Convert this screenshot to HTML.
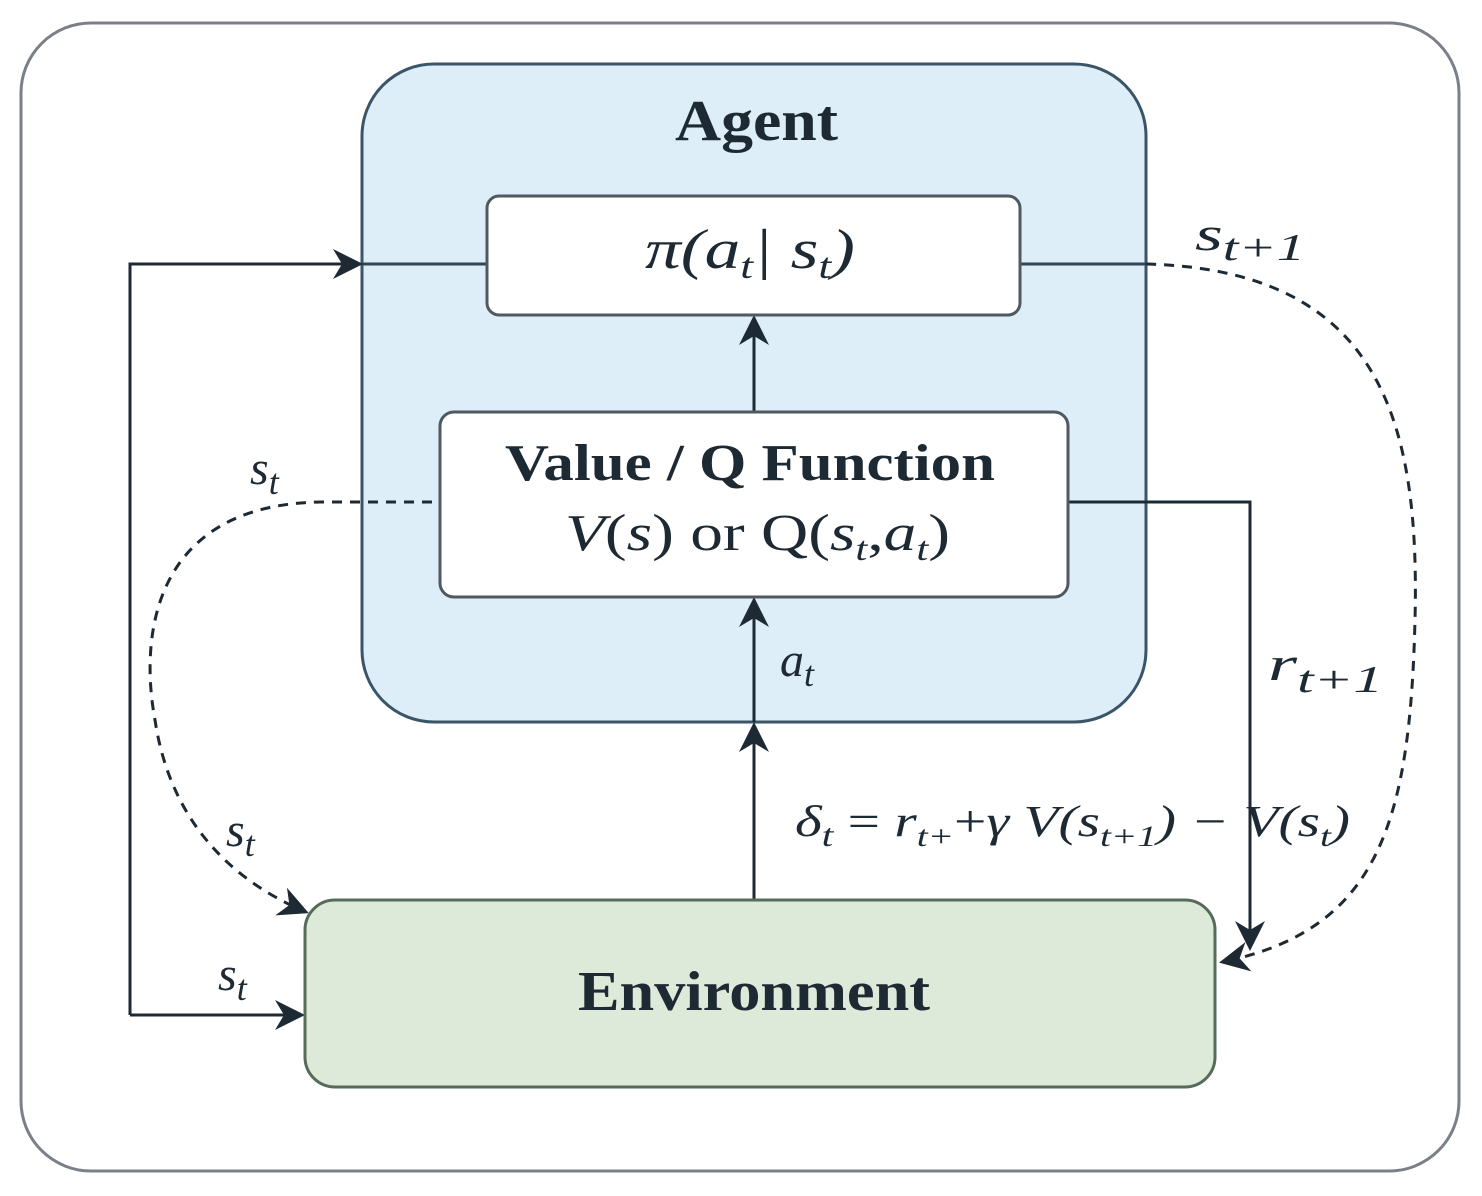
<!DOCTYPE html>
<html><head><meta charset="utf-8"><style>
html,body{margin:0;padding:0;background:#fff;}
svg{display:block;}
text{font-family:"Liberation Serif",serif;fill:#1d2a33;}
</style></head><body>
<svg width="1482" height="1196" viewBox="0 0 1482 1196" xmlns="http://www.w3.org/2000/svg">
<defs>
<marker id="ahb" viewBox="0 0 10 10" refX="9" refY="5" markerWidth="34" markerHeight="30" orient="auto" markerUnits="userSpaceOnUse">
<path d="M0,0 L10,5 L0,10 L3,5 Z" fill="#1d2a33"/></marker>
</defs>
<rect x="21" y="23" width="1438" height="1148" rx="70" fill="#fff" stroke="#7b8088" stroke-width="3"/>
<rect x="362" y="64" width="784" height="658" rx="72" fill="#ddeef9" stroke="#3b5568" stroke-width="3"/>
<text x="675" y="140" font-size="58" font-weight="bold" textLength="163" lengthAdjust="spacingAndGlyphs">Agent</text>
<line x1="362" y1="264" x2="487" y2="264" stroke="#2f4656" stroke-width="3"/>
<line x1="1020" y1="264" x2="1146" y2="264" stroke="#2f4656" stroke-width="3"/>
<path d="M130,1015 L130,264 L360,264" fill="none" stroke="#1d2a33" stroke-width="3" marker-end="url(#ahb)"/>
<line x1="130" y1="1015" x2="302" y2="1015" stroke="#1d2a33" stroke-width="3" marker-end="url(#ahb)"/>
<line x1="754" y1="412" x2="754" y2="318" stroke="#1d2a33" stroke-width="3" marker-end="url(#ahb)"/>
<line x1="754" y1="722" x2="754" y2="600" stroke="#1d2a33" stroke-width="3" marker-end="url(#ahb)"/>
<line x1="754" y1="900" x2="754" y2="725" stroke="#1d2a33" stroke-width="3" marker-end="url(#ahb)"/>
<path d="M1068,502 L1250,502 L1250,948" fill="none" stroke="#1d2a33" stroke-width="3" marker-end="url(#ahb)"/>
<path d="M1146,264 C1380,270 1420,420 1415,620 C1410,820 1380,930 1222,962" fill="none" stroke="#1d2a33" stroke-width="3" stroke-dasharray="10,8" marker-end="url(#ahb)"/>
<path d="M432,502 L320,502 C150,505 140,640 155,720 C170,820 230,880 306,912" fill="none" stroke="#1d2a33" stroke-width="3" stroke-dasharray="10,8" marker-end="url(#ahb)"/>
<rect x="487" y="196" width="533" height="119" rx="12" fill="#fff" stroke="#505860" stroke-width="3"/>
<text x="645" y="268" font-size="56" font-style="italic" textLength="210" lengthAdjust="spacingAndGlyphs">π(a<tspan font-size="36" dy="10">t</tspan><tspan dy="-10">| s</tspan><tspan font-size="36" dy="10">t</tspan><tspan dy="-10">)</tspan></text>
<rect x="440" y="412" width="628" height="185" rx="14" fill="#fff" stroke="#505860" stroke-width="3"/>
<text x="505" y="480" font-size="52" font-weight="bold" textLength="490" lengthAdjust="spacingAndGlyphs">Value / Q Function</text>
<text x="565" y="550" font-size="52" textLength="385" lengthAdjust="spacingAndGlyphs"><tspan font-style="italic">V</tspan>(<tspan font-style="italic">s</tspan>) or Q(<tspan font-style="italic">s</tspan><tspan font-size="34" dy="10" font-style="italic">t</tspan><tspan dy="-10">,</tspan><tspan font-style="italic">a</tspan><tspan font-size="34" dy="10" font-style="italic">t</tspan><tspan dy="-10">)</tspan></text>
<rect x="305" y="900" width="910" height="187" rx="30" fill="#dde9d9" stroke="#566b58" stroke-width="3"/>
<text x="578" y="1010" font-size="56" font-weight="bold" textLength="352" lengthAdjust="spacingAndGlyphs">Environment</text>
<g font-style="italic" font-size="48">
<text x="780" y="676">a<tspan font-size="36" dy="10">t</tspan></text>
<text x="250" y="484">s<tspan font-size="36" dy="10">t</tspan></text>
<text x="226" y="846">s<tspan font-size="36" dy="10">t</tspan></text>
<text x="218" y="990">s<tspan font-size="36" dy="10">t</tspan></text>
<text x="1195" y="250" textLength="110" lengthAdjust="spacingAndGlyphs">s<tspan font-size="38" dy="10">t+1</tspan></text>
<text x="1268" y="680" textLength="115" lengthAdjust="spacingAndGlyphs">r<tspan font-size="38" dy="12">t+1</tspan></text>
</g>
<text x="795" y="836" font-size="44" font-style="italic" textLength="555" lengthAdjust="spacingAndGlyphs">δ<tspan font-size="32" dy="10">t</tspan><tspan dy="-10" font-style="normal"> = </tspan>r<tspan font-size="30" dy="10">t+</tspan><tspan dy="-10" font-style="normal">+</tspan>γ V(s<tspan font-size="30" dy="10">t+1</tspan><tspan dy="-10">) − V(s</tspan><tspan font-size="30" dy="10">t</tspan><tspan dy="-10">)</tspan></text>
</svg>
</body></html>
